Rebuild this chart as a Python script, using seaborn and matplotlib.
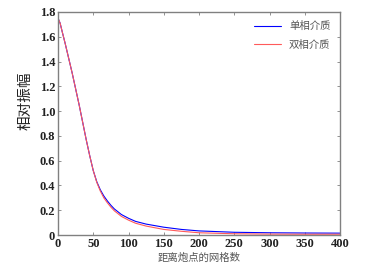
import numpy as np
import pandas as pd
import matplotlib
matplotlib.use("Agg")
import matplotlib.pyplot as plt
import seaborn as sns

# data
grid = [0, 3, 6, 10, 15, 20, 25, 30, 35, 40, 45, 50, 55, 60, 65, 70, 75, 80,
        90, 100, 110, 125, 150, 175, 200, 250, 300, 350, 400]
single = [1.75, 1.71, 1.64, 1.55, 1.43, 1.31, 1.18, 1.05, 0.91, 0.77, 0.64,
          0.52, 0.43, 0.365, 0.315, 0.275, 0.24, 0.21, 0.165, 0.135, 0.11,
          0.088, 0.063, 0.045, 0.033, 0.022, 0.018, 0.016, 0.015]
double = [1.75, 1.71, 1.64, 1.55, 1.43, 1.31, 1.18, 1.05, 0.91, 0.77, 0.64,
          0.52, 0.425, 0.355, 0.3, 0.26, 0.225, 0.195, 0.15, 0.12, 0.095,
          0.072, 0.045, 0.03, 0.018, 0.01, 0.007, 0.006, 0.006]
names = ["单相介质", "双相介质"]

df = pd.DataFrame({
    "x": grid * 2,
    "amp": single + double,
    "kind": [names[0]] * len(grid) + [names[1]] * len(grid),
})

sns.set_style("ticks")
plt.rcParams["font.family"] = ["Liberation Serif", "Noto Sans CJK SC"]
plt.rcParams["xtick.direction"] = "in"
plt.rcParams["ytick.direction"] = "in"

fig = plt.figure(figsize=(3.68, 2.69), dpi=100)
ax = fig.add_axes([58 / 368, 1 - 235 / 269, 282 / 368, 223 / 269])

sns.lineplot(data=df, x="x", y="amp", hue="kind",
             palette={names[0]: "#0000ff", names[1]: "#ff5a5a"},
             linewidth=0.8, ax=ax)

ax.set_xlim(0, 400)
ax.set_ylim(0, 1.8)
ax.set_xticks(np.arange(0, 401, 50))
ax.set_yticks(np.arange(0, 1.81, 0.2))
ax.set_yticklabels(["0"] + ["%.1f" % v for v in np.arange(0.2, 1.81, 0.2)])
ax.tick_params(axis="both", labelsize=9, length=2.5, width=0.6,
               color="#808080", top=True, right=True, pad=2)
for lab in ax.get_xticklabels() + ax.get_yticklabels():
    lab.set_fontweight("bold")
    lab.set_color("#222222")
for s in ax.spines.values():
    s.set_color("#808080")
    s.set_linewidth(1.0)

ax.set_xlabel("距离炮点的网格数", family=["Noto Sans CJK SC"], fontsize=7.5,
              color="#555555", labelpad=2)
ax.set_ylabel("相对振幅", family=["Noto Sans CJK SC"], fontsize=10.5,
              color="#222222", labelpad=6)
ax.yaxis.set_label_coords(-0.09, 0.6)

leg = ax.legend(frameon=False, loc="upper right", fontsize=7.5,
                handlelength=2.6, borderaxespad=0.5, labelspacing=0.8,
                prop={"family": "Noto Sans CJK SC", "size": 7.5})
for t in leg.get_texts():
    t.set_color("#555555")

fig.savefig("out.png", dpi=100)
